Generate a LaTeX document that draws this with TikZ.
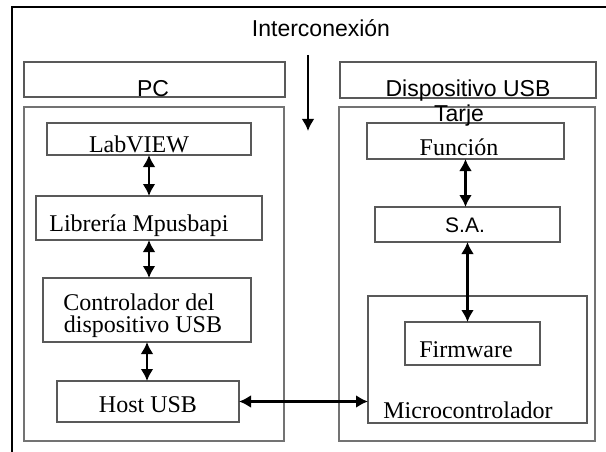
\documentclass[tikz,border=0pt]{standalone}
\usepackage{fontspec}
\setmainfont{Liberation Serif}
\newfontfamily\arial{Liberation Sans}
\usetikzlibrary{arrows.meta}
\begin{document}
\begin{tikzpicture}[x=1pt,y=-1pt,>={Latex[length=12pt,width=13pt]},
  caja/.style={draw=black!65,line width=2.6pt,inner sep=0pt,outer sep=0pt},
  marco/.style={draw=black!55,line width=2.6pt,inner sep=0pt,outer sep=0pt},
  flecha/.style={<->,line width=2.6pt},
  rom/.style={font=\fontsize{24}{23}\selectfont,anchor=base,inner sep=0pt},
  pal/.style={font=\arial\fontsize{23}{24}\selectfont,anchor=base,inner sep=0pt}]
\useasboundingbox (0,0) rectangle (606,452);
\draw[line width=2.4pt](12,452)--(12,7)--(606,7);
\node[pal](inter) at (321,37){Interconexión};
\coordinate(desde) at (308,55);
\coordinate(hasta) at (308,131);
\draw[->,line width=2.6pt](desde)--(hasta);
\node[caja,minimum width=261,minimum height=35](pchead) at (154.5,79.5){};
\node[caja,minimum width=256,minimum height=36](usbhead) at (468,80){};
\node[pal](pctxt) at (153,96){PC};
\node[pal](usbtxt) at (468,96){Dispositivo USB};
\node[marco,minimum width=260,minimum height=334](pc) at (154,274){};
\node[marco,minimum width=256,minimum height=334](usb) at (467,274){};
% lado del PC
\node[caja,minimum width=204,minimum height=32](labview) at (149,139){};
\node[caja,minimum width=226,minimum height=44](libreria) at (149,218){};
\node[caja,minimum width=208,minimum height=64](controlador) at (147,310){};
\node[caja,minimum width=182,minimum height=41](host) at (148,401.5){};
\node[rom](labviewtxt) at (139,153){LabVIEW};
\node[rom](libreriatxt) at (139,231){Librería Mpusbapi};
\node[rom](controladortxt) at (139,310){Controlador del};
\node[rom](dispositivotxt) at (143,332){dispositivo USB};
\node[rom](hosttxt) at (148,412){Host USB};
% lado del dispositivo
\node[caja,minimum width=197,minimum height=36](funcion) at (465.5,141){};
\node[caja,minimum width=185,minimum height=35](sa) at (467.5,224.5){};
\node[caja,minimum width=219,minimum height=127](micro) at (477.5,359.5){};
\node[caja,minimum width=135,minimum height=43](firmware) at (472.5,343.5){};
\node[pal](tarjetxt) at (459,122){Tarje};
\node[rom](funciontxt) at (459,155){Función};
\node[pal,font=\arial\fontsize{21}{24}\selectfont](satxt) at (465,233){S.A.};
\node[rom](firmwaretxt) at (466,357){Firmware};
\node[rom](microtxt) at (468,418){Microcontrolador};
\draw[flecha](labview)--(libreria);
\draw[flecha](libreria.south)--(libreria.south|-controlador.north);
\draw[flecha](controlador.south)--(controlador.south|-host.north);
\draw[flecha](funcion.south)--(funcion.south|-sa.north);
\draw[flecha](sa.south)--(sa.south|-firmware.north);
\draw[flecha](host.east)--(host.east-|micro.west);
\end{tikzpicture}
\end{document}
